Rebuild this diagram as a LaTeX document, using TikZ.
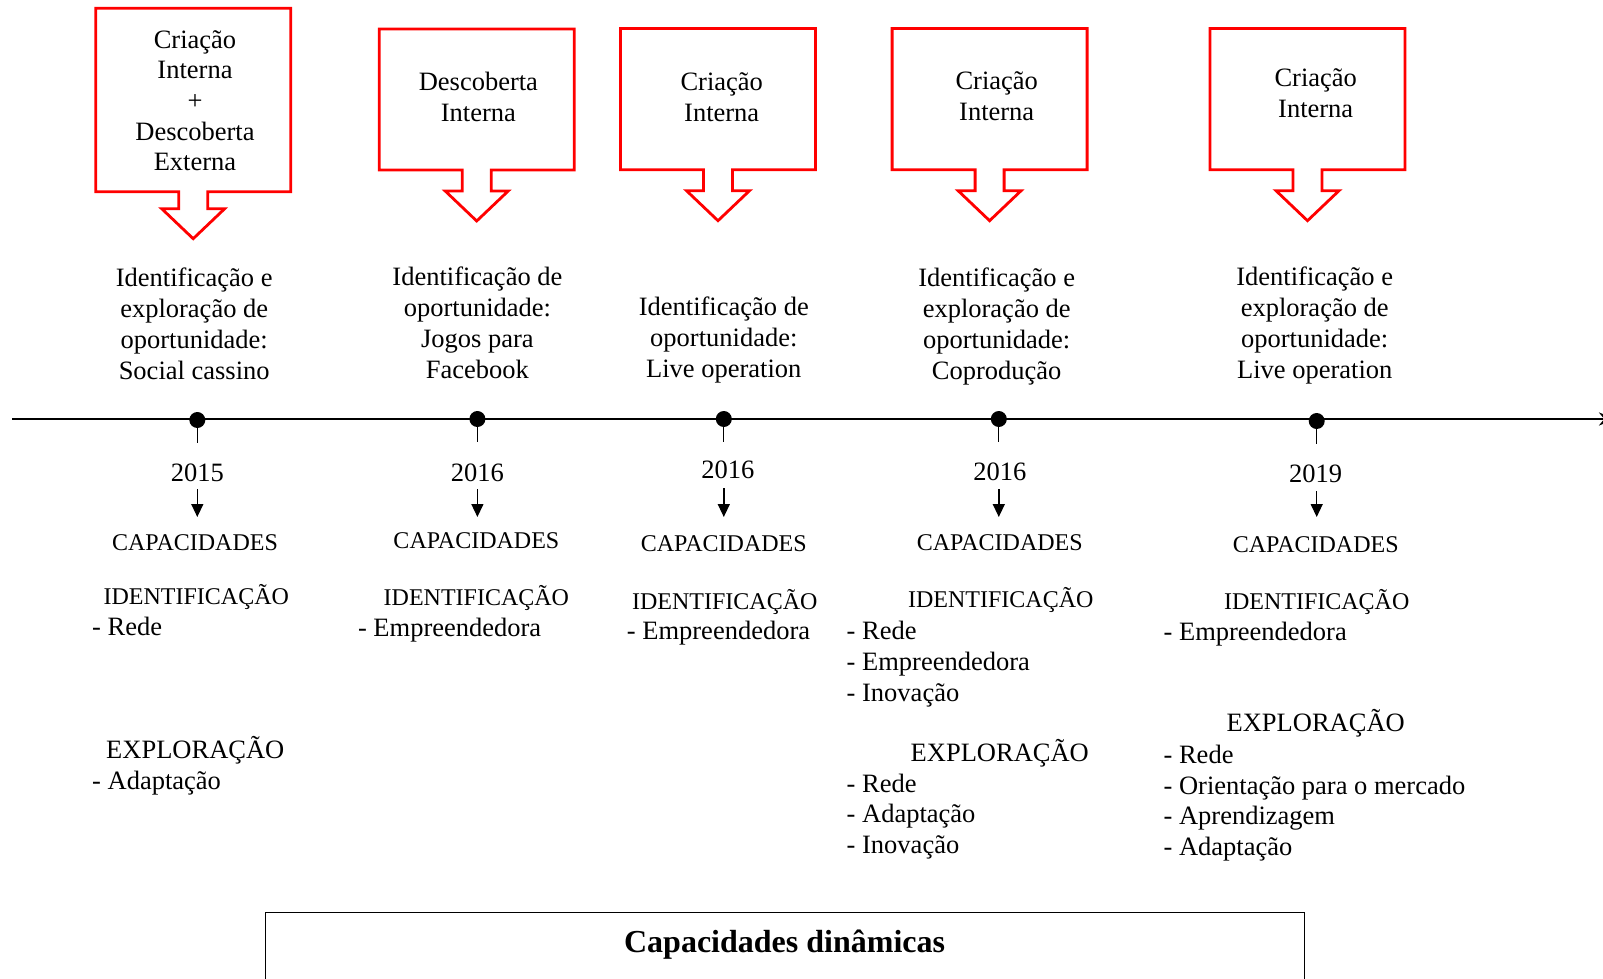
\documentclass[tikz,border=0pt]{standalone}
\usepackage{fontspec}
\setmainfont{Liberation Serif}
\usetikzlibrary{arrows.meta}

% callout outline: centre x, top y, bottom y, stem length
\newcommand\calloutshape[4]{%
  \draw[callout] (#1-97.5,#2) -- (#1+97.5,#2) -- (#1+97.5,#3) -- (#1+14.5,#3)
    -- (#1+14.5,#3+#4) -- (#1+31.5,#3+#4) -- (#1,#3+#4+30) -- (#1-31.5,#3+#4)
    -- (#1-14.5,#3+#4) -- (#1-14.5,#3) -- (#1-97.5,#3) -- cycle;}

\begin{document}
\begin{tikzpicture}[x=1pt,y=-1pt,
  % multi-line texts are placed by the baseline of their last line
  txt/.style={inner sep=0pt, font=\fontsize{26.5}{30.7}\selectfont, align=center, anchor=base},
  captxt/.style={inner sep=0pt, font=\fontsize{24}{30}\selectfont, anchor=base},
  lst/.style={inner sep=0pt, font=\fontsize{26.5}{30.7}\selectfont, align=left, anchor=base west},
  callout/.style={draw=red, line width=2.8pt, line join=miter},
  dot/.style={circle, fill=black, inner sep=0pt, minimum size=16pt},
  tickline/.style={line width=1pt},
  darr/.style={line width=1.4pt, -{Triangle[length=13pt,width=12pt]}},
]
\useasboundingbox (0,0) rectangle (1603,979);
\fill[white] (0,0) rectangle (1603,979);

% callout boxes
\calloutshape{193.2}{8.3}{191.7}{17}
\calloutshape{476.7}{29}{170}{21}
\calloutshape{718}{28.6}{169.7}{21}
\calloutshape{989.6}{28.6}{169.7}{21}
\calloutshape{1307.5}{28.6}{169.7}{21}

\node[txt] (b1) at (195,171) {Criação\\Interna\\+\\Descoberta\\Externa};
\node[txt] (b2) at (478.4,121.5) {Descoberta\\Interna};
\node[txt] (b3) at (721.7,121.5) {Criação\\Interna};
\node[txt] (b4) at (996.7,120.4) {Criação\\Interna};
\node[txt] (b5) at (1315.7,117.4) {Criação\\Interna};

% opportunities
\node[txt] (o1) at (194.2,379) {Identificação e\\exploração de\\oportunidade:\\Social cassino};
\node[txt] (o2) at (477.4,378) {Identificação de\\oportunidade:\\Jogos para\\Facebook};
\node[txt] (o3) at (723.8,377) {Identificação de\\oportunidade:\\Live operation};
\node[txt] (o4) at (996.7,379) {Identificação e\\exploração de\\oportunidade:\\Coprodução};
\node[txt] (o5) at (1314.7,378) {Identificação e\\exploração de\\oportunidade:\\Live operation};

% timeline
\coordinate (t0) at (12,419);
\coordinate (t1) at (1615,419);
\draw[line width=2.8pt, -{Stealth[length=16pt,width=13pt]}] (t0) -- (t1);

\node[dot] (d1) at (197.3,420) {};
\node[dot] (d2) at (477.4,419) {};
\node[dot] (d3) at (723.8,419) {};
\node[dot] (d4) at (998.8,419) {};
\node[dot] (d5) at (1316.7,421) {};

\node[txt] (y1) at (197.3,481) {2015};
\node[txt] (y2) at (477.4,481) {2016};
\node[txt] (y3) at (727.9,478) {2016};
\node[txt] (y4) at (999.8,480) {2016};
\node[txt] (y5) at (1315.7,482) {2019};

\foreach \i in {1,...,5}{
  \draw[tickline] (d\i.center) -- ([yshift=-15pt]d\i.south);
}
\coordinate (a1) at (197.3,489);  \coordinate (e1) at (197.3,517);
\coordinate (a2) at (477.4,489);  \coordinate (e2) at (477.4,517);
\coordinate (a3) at (723.8,488);  \coordinate (e3) at (723.8,517);
\coordinate (a4) at (998.8,489);  \coordinate (e4) at (998.8,517);
\coordinate (a5) at (1316.7,491); \coordinate (e5) at (1316.7,517);
\foreach \i in {1,...,5}{ \draw[darr] (a\i) -- (e\i); }

% capabilities
\node[captxt] (c1) at (195,550) {CAPACIDADES};
\node[captxt] (c2) at (476.4,548) {CAPACIDADES};
\node[captxt] (c3) at (723.8,551) {CAPACIDADES};
\node[captxt] (c4) at (999.8,550) {CAPACIDADES};
\node[captxt] (c5) at (1315.7,552) {CAPACIDADES};

\node[captxt] (i1) at (196.3,604) {IDENTIFICAÇÃO};
\node[captxt] (i2) at (476.4,605) {IDENTIFICAÇÃO};
\node[captxt] (i3) at (724.8,609) {IDENTIFICAÇÃO};
\node[captxt] (i4) at (1000.8,607) {IDENTIFICAÇÃO};
\node[captxt] (i5) at (1316.7,609) {IDENTIFICAÇÃO};

\node[lst] (il1) at (92,635.7) {- Rede};
\node[lst] (il2) at (357.8,636.7) {- Empreendedora};
\node[lst] (il3) at (626.7,639.8) {- Empreendedora};
\node[lst] (il4) at (846.5,701) {- Rede\\- Empreendedora\\- Inovação};
\node[lst] (il5) at (1163.4,640.8) {- Empreendedora};

\node[txt] (x1) at (195.3,758.3) {EXPLORAÇÃO};
\node[txt] (x4) at (999.8,761.4) {EXPLORAÇÃO};
\node[txt] (x5) at (1315.7,731.8) {EXPLORAÇÃO};

\node[lst] (xl1) at (92,789) {- Adaptação};
\node[lst] (xl4) at (846.5,853.4) {- Rede\\- Adaptação\\- Inovação};
\node[lst] (xl5) at (1163.4,855.5) {- Rede\\- Orientação para o mercado\\- Aprendizagem\\- Adaptação};

% bottom frame
\node[draw, line width=1.3pt, minimum width=1039pt, minimum height=90pt, inner sep=0pt, anchor=north west] (frame) at (265,912) {};
\node[inner sep=0pt, anchor=base, font=\fontsize{32}{36}\selectfont\bfseries] (title) at (784.6,952) {Capacidades dinâmicas};
\end{tikzpicture}
\end{document}
